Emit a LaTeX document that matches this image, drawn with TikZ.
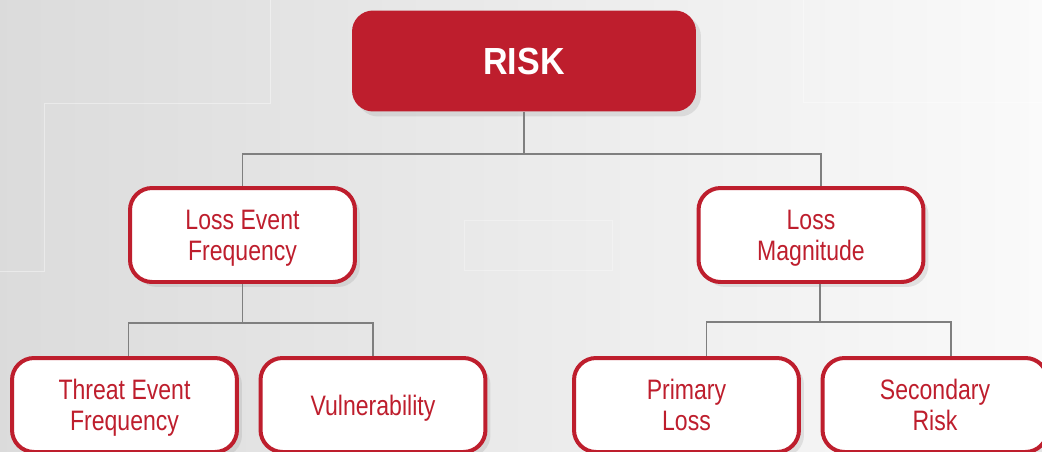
\documentclass[tikz,border=0pt]{standalone}
\usepackage{fontspec}
\setmainfont{Liberation Sans}[FakeStretch=0.82]
\newfontfamily\riskfont{Liberation Sans}[FakeStretch=0.9]
\usetikzlibrary{shadows,calc,backgrounds}
\definecolor{riskred}{HTML}{BE1E2D}
\definecolor{linkgray}{HTML}{7F7F7F}

\begin{document}
\begin{tikzpicture}[
  x=0.02cm, y=-0.02cm,
  factor/.style={rectangle, rounded corners=0.44cm, draw=riskred, line width=0.08cm, fill=white, text=riskred, minimum width=4.5cm, minimum height=1.88cm, align=center, text depth=0pt, font=\fontsize{16}{17.5}\selectfont, drop shadow={shadow xshift=0.1cm, shadow yshift=-0.1cm, opacity=0.18}},
  riskbox/.style={rectangle, rounded corners=0.42cm, fill=riskred, text=white, minimum width=6.88cm, minimum height=2.02cm, font=\riskfont\bfseries\fontsize{21.5}{24}\selectfont, drop shadow={shadow xshift=0.1cm, shadow yshift=-0.1cm, opacity=0.18}},
  link/.style={draw=linkgray, line width=0.03cm}
]
\useasboundingbox (0,0) rectangle (1042,451);
\clip (0,0) rectangle (1042,451);

\node[riskbox] (risk) at (524,61) {RISK};
\node[factor] (lef) at (242.5,235) {Loss Event\\Frequency};
\node[factor] (lm) at (811,235) {Loss\\Magnitude};
\node[factor] (tef) at (124.5,405) {Threat Event\\Frequency};
\node[factor] (vul) at (373,405) {Vulnerability};
\node[factor] (pl) at (686.5,405) {Primary\\Loss};
\node[factor] (sr) at (935,405) {Secondary\\Risk};

\begin{pgfonlayer}{background}
\shade[left color=black!14, right color=black!2] (0,0) rectangle (1042,451);
% faint panels in the background
\draw[white, opacity=0.4, line width=0.02cm] (270,0) |- (44,103) |- (0,271);
\draw[white, opacity=0.4, line width=0.02cm] (803,0) |- (1042,102);
\draw[white, opacity=0.3, line width=0.02cm] (464,220) rectangle (612,270);

\draw[link] (risk.south) -- ++(0,42) -| (lef.north);
\draw[link] (risk.south) -- ++(0,42) -| ($(lm.north)+(10,0)$);
\draw[link] (lef.south) -- ++(0,39) -| ($(tef.north)+(4,0)$);
\draw[link] (lef.south) -- ++(0,39) -| (vul.north);
\draw[link] ($(lm.south)+(9,0)$) -- ++(0,38) -| ($(pl.north)+(20,0)$);
\draw[link] ($(lm.south)+(9,0)$) -- ++(0,38) -| ($(sr.north)+(16,0)$);
\end{pgfonlayer}
\end{tikzpicture}
\end{document}
